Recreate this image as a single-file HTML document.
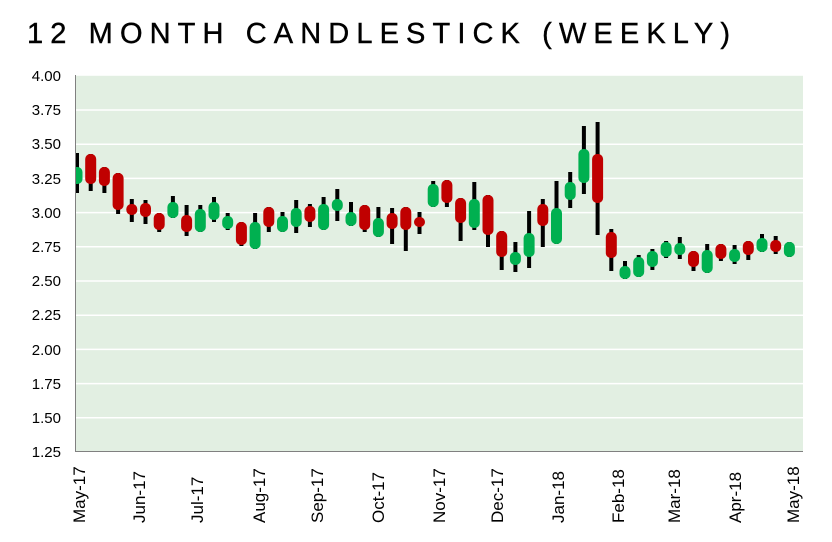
<!DOCTYPE html>
<html><head><meta charset="utf-8"><style>
html,body{margin:0;padding:0;background:#fff;}
svg{display:block;font-family:"Liberation Sans",sans-serif;}
.w{fill:#000}.g{fill:#00b050}.r{fill:#c00000}
</style></head><body>
<svg width="832" height="542" viewBox="0 0 832 542" xmlns="http://www.w3.org/2000/svg">
<text x="27" y="43" font-size="29" textLength="703" lengthAdjust="spacing" fill="#000" stroke="#000" stroke-width="0.4">12 MONTH CANDLESTICK (WEEKLY)</text>
<rect x="76" y="75.8" width="727" height="376" fill="#e2efe2"/>
<g stroke="#fff" stroke-width="1.5">
<line x1="76" x2="803" y1="110" y2="110"/><line x1="76" x2="803" y1="144.2" y2="144.2"/>
<line x1="76" x2="803" y1="178.4" y2="178.4"/><line x1="76" x2="803" y1="212.6" y2="212.6"/>
<line x1="76" x2="803" y1="246.8" y2="246.8"/><line x1="76" x2="803" y1="281" y2="281"/>
<line x1="76" x2="803" y1="315.2" y2="315.2"/><line x1="76" x2="803" y1="349.4" y2="349.4"/>
<line x1="76" x2="803" y1="383.6" y2="383.6"/><line x1="76" x2="803" y1="417.8" y2="417.8"/>
</g>
<g font-size="15" text-anchor="end" fill="#000">
<text x="61" y="81">4.00</text><text x="61" y="115">3.75</text><text x="61" y="149">3.50</text>
<text x="61" y="184">3.25</text><text x="61" y="218">3.00</text><text x="61" y="252">2.75</text>
<text x="61" y="286">2.50</text><text x="61" y="320">2.25</text><text x="61" y="355">2.00</text>
<text x="61" y="389">1.75</text><text x="61" y="423">1.50</text><text x="61" y="457">1.25</text>
</g>
<g font-size="17" fill="#000">
<text transform="translate(85,523) rotate(-90)">May-17</text>
<text transform="translate(145,523) rotate(-90)">Jun-17</text>
<text transform="translate(203,523) rotate(-90)">Jul-17</text>
<text transform="translate(265,523) rotate(-90)">Aug-17</text>
<text transform="translate(323,523) rotate(-90)">Sep-17</text>
<text transform="translate(384,523) rotate(-90)">Oct-17</text>
<text transform="translate(445,523) rotate(-90)">Nov-17</text>
<text transform="translate(503,523) rotate(-90)">Dec-17</text>
<text transform="translate(564,523) rotate(-90)">Jan-18</text>
<text transform="translate(624,523) rotate(-90)">Feb-18</text>
<text transform="translate(680,523) rotate(-90)">Mar-18</text>
<text transform="translate(741,523) rotate(-90)">Apr-18</text>
<text transform="translate(799,523) rotate(-90)">May-18</text>
</g>
<clipPath id="c"><rect x="76" y="75" width="727" height="377"/></clipPath>
<g clip-path="url(#c)">
<g transform="translate(77,0)"><rect class="w" x="-2" y="153" width="4" height="40"/><rect class="g" x="-5.5" y="167" width="11" height="17" rx="5"/></g>
<g transform="translate(90.7,0)"><rect class="w" x="-2" y="154" width="4" height="37"/><rect class="r" x="-5.5" y="154" width="11" height="30" rx="5"/></g>
<g transform="translate(104.4,0)"><rect class="w" x="-2" y="167" width="4" height="26"/><rect class="r" x="-5.5" y="167" width="11" height="19" rx="5"/></g>
<g transform="translate(118.1,0)"><rect class="w" x="-2" y="173" width="4" height="41"/><rect class="r" x="-5.5" y="173" width="11" height="37" rx="5"/></g>
<g transform="translate(131.8,0)"><rect class="w" x="-2" y="199" width="4" height="23"/><rect class="r" x="-5.5" y="204" width="11" height="11" rx="5"/></g>
<g transform="translate(145.5,0)"><rect class="w" x="-2" y="200" width="4" height="24"/><rect class="r" x="-5.5" y="203" width="11" height="14" rx="5"/></g>
<g transform="translate(159.2,0)"><rect class="w" x="-2" y="213" width="4" height="19"/><rect class="r" x="-5.5" y="213" width="11" height="17" rx="5"/></g>
<g transform="translate(172.9,0)"><rect class="w" x="-2" y="196" width="4" height="22"/><rect class="g" x="-5.5" y="202" width="11" height="16" rx="5"/></g>
<g transform="translate(186.6,0)"><rect class="w" x="-2" y="205" width="4" height="31"/><rect class="r" x="-5.5" y="215" width="11" height="17" rx="5"/></g>
<g transform="translate(200.3,0)"><rect class="w" x="-2" y="205" width="4" height="27"/><rect class="g" x="-5.5" y="209" width="11" height="23" rx="5"/></g>
<g transform="translate(214,0)"><rect class="w" x="-2" y="197" width="4" height="25"/><rect class="g" x="-5.5" y="202" width="11" height="18" rx="5"/></g>
<g transform="translate(227.7,0)"><rect class="w" x="-2" y="213" width="4" height="17"/><rect class="g" x="-5.5" y="216" width="11" height="13" rx="5"/></g>
<g transform="translate(241.4,0)"><rect class="w" x="-2" y="222" width="4" height="24"/><rect class="r" x="-5.5" y="222" width="11" height="23" rx="5"/></g>
<g transform="translate(255.1,0)"><rect class="w" x="-2" y="213" width="4" height="36"/><rect class="g" x="-5.5" y="222" width="11" height="27" rx="5"/></g>
<g transform="translate(268.8,0)"><rect class="w" x="-2" y="207" width="4" height="25"/><rect class="r" x="-5.5" y="207" width="11" height="20" rx="5"/></g>
<g transform="translate(282.5,0)"><rect class="w" x="-2" y="212" width="4" height="20"/><rect class="g" x="-5.5" y="216" width="11" height="16" rx="5"/></g>
<g transform="translate(296.2,0)"><rect class="w" x="-2" y="200" width="4" height="33"/><rect class="g" x="-5.5" y="208" width="11" height="19" rx="5"/></g>
<g transform="translate(309.9,0)"><rect class="w" x="-2" y="204" width="4" height="23"/><rect class="r" x="-5.5" y="206" width="11" height="16" rx="5"/></g>
<g transform="translate(323.6,0)"><rect class="w" x="-2" y="197" width="4" height="33"/><rect class="g" x="-5.5" y="204" width="11" height="26" rx="5"/></g>
<g transform="translate(337.3,0)"><rect class="w" x="-2" y="189" width="4" height="32"/><rect class="g" x="-5.5" y="199" width="11" height="12" rx="5"/></g>
<g transform="translate(351,0)"><rect class="w" x="-2" y="202" width="4" height="24"/><rect class="g" x="-5.5" y="212" width="11" height="14" rx="5"/></g>
<g transform="translate(364.7,0)"><rect class="w" x="-2" y="205" width="4" height="27"/><rect class="r" x="-5.5" y="205" width="11" height="25" rx="5"/></g>
<g transform="translate(378.4,0)"><rect class="w" x="-2" y="207" width="4" height="30"/><rect class="g" x="-5.5" y="218" width="11" height="19" rx="5"/></g>
<g transform="translate(392.1,0)"><rect class="w" x="-2" y="208" width="4" height="36"/><rect class="r" x="-5.5" y="213" width="11" height="16" rx="5"/></g>
<g transform="translate(405.8,0)"><rect class="w" x="-2" y="207" width="4" height="44"/><rect class="r" x="-5.5" y="207" width="11" height="23" rx="5"/></g>
<g transform="translate(419.5,0)"><rect class="w" x="-2" y="212" width="4" height="22"/><rect class="r" x="-5.5" y="217" width="11" height="10" rx="5"/></g>
<g transform="translate(433.2,0)"><rect class="w" x="-2" y="181" width="4" height="26"/><rect class="g" x="-5.5" y="184" width="11" height="23" rx="5"/></g>
<g transform="translate(446.9,0)"><rect class="w" x="-2" y="180" width="4" height="27"/><rect class="r" x="-5.5" y="180" width="11" height="23" rx="5"/></g>
<g transform="translate(460.6,0)"><rect class="w" x="-2" y="198" width="4" height="43"/><rect class="r" x="-5.5" y="198" width="11" height="25" rx="5"/></g>
<g transform="translate(474.3,0)"><rect class="w" x="-2" y="182" width="4" height="48"/><rect class="g" x="-5.5" y="199" width="11" height="29" rx="5"/></g>
<g transform="translate(488,0)"><rect class="w" x="-2" y="195" width="4" height="52"/><rect class="r" x="-5.5" y="195" width="11" height="40" rx="5"/></g>
<g transform="translate(501.7,0)"><rect class="w" x="-2" y="231" width="4" height="39"/><rect class="r" x="-5.5" y="231" width="11" height="26" rx="5"/></g>
<g transform="translate(515.4,0)"><rect class="w" x="-2" y="242" width="4" height="30"/><rect class="g" x="-5.5" y="252" width="11" height="13" rx="5"/></g>
<g transform="translate(529.1,0)"><rect class="w" x="-2" y="211" width="4" height="57"/><rect class="g" x="-5.5" y="233" width="11" height="24" rx="5"/></g>
<g transform="translate(542.8,0)"><rect class="w" x="-2" y="199" width="4" height="48"/><rect class="r" x="-5.5" y="204" width="11" height="22" rx="5"/></g>
<g transform="translate(556.5,0)"><rect class="w" x="-2" y="181" width="4" height="63"/><rect class="g" x="-5.5" y="208" width="11" height="36" rx="5"/></g>
<g transform="translate(570.2,0)"><rect class="w" x="-2" y="172" width="4" height="36"/><rect class="g" x="-5.5" y="182" width="11" height="18" rx="5"/></g>
<g transform="translate(583.9,0)"><rect class="w" x="-2" y="126" width="4" height="68"/><rect class="g" x="-5.5" y="149" width="11" height="34" rx="5"/></g>
<g transform="translate(597.6,0)"><rect class="w" x="-2" y="122" width="4" height="113"/><rect class="r" x="-5.5" y="154" width="11" height="49" rx="5"/></g>
<g transform="translate(611.3,0)"><rect class="w" x="-2" y="229" width="4" height="42"/><rect class="r" x="-5.5" y="232" width="11" height="26" rx="5"/></g>
<g transform="translate(625,0)"><rect class="w" x="-2" y="261" width="4" height="18"/><rect class="g" x="-5.5" y="266" width="11" height="13" rx="5"/></g>
<g transform="translate(638.7,0)"><rect class="w" x="-2" y="255" width="4" height="22"/><rect class="g" x="-5.5" y="257" width="11" height="20" rx="5"/></g>
<g transform="translate(652.4,0)"><rect class="w" x="-2" y="249" width="4" height="21"/><rect class="g" x="-5.5" y="251" width="11" height="16" rx="5"/></g>
<g transform="translate(666.1,0)"><rect class="w" x="-2" y="241" width="4" height="17"/><rect class="g" x="-5.5" y="242" width="11" height="15" rx="5"/></g>
<g transform="translate(679.8,0)"><rect class="w" x="-2" y="237" width="4" height="22"/><rect class="g" x="-5.5" y="243" width="11" height="12" rx="5"/></g>
<g transform="translate(693.5,0)"><rect class="w" x="-2" y="251" width="4" height="20"/><rect class="r" x="-5.5" y="251" width="11" height="16" rx="5"/></g>
<g transform="translate(707.2,0)"><rect class="w" x="-2" y="244" width="4" height="29"/><rect class="g" x="-5.5" y="250" width="11" height="23" rx="5"/></g>
<g transform="translate(720.9,0)"><rect class="w" x="-2" y="244" width="4" height="17"/><rect class="r" x="-5.5" y="244" width="11" height="15" rx="5"/></g>
<g transform="translate(734.6,0)"><rect class="w" x="-2" y="245" width="4" height="19"/><rect class="g" x="-5.5" y="249" width="11" height="13" rx="5"/></g>
<g transform="translate(748.3,0)"><rect class="w" x="-2" y="241" width="4" height="19"/><rect class="r" x="-5.5" y="241" width="11" height="14" rx="5"/></g>
<g transform="translate(762,0)"><rect class="w" x="-2" y="234" width="4" height="18"/><rect class="g" x="-5.5" y="238" width="11" height="14" rx="5"/></g>
<g transform="translate(775.7,0)"><rect class="w" x="-2" y="236" width="4" height="18"/><rect class="r" x="-5.5" y="240" width="11" height="12" rx="5"/></g>
<g transform="translate(789.4,0)"><rect class="w" x="-2" y="242" width="4" height="15"/><rect class="g" x="-5.5" y="242" width="11" height="15" rx="5"/></g>
</g>
<line x1="75.5" y1="75" x2="75.5" y2="452" stroke="#808080" stroke-width="1"/>
<line x1="75" y1="451.5" x2="803" y2="451.5" stroke="#808080" stroke-width="1"/>
</svg>
</body></html>
